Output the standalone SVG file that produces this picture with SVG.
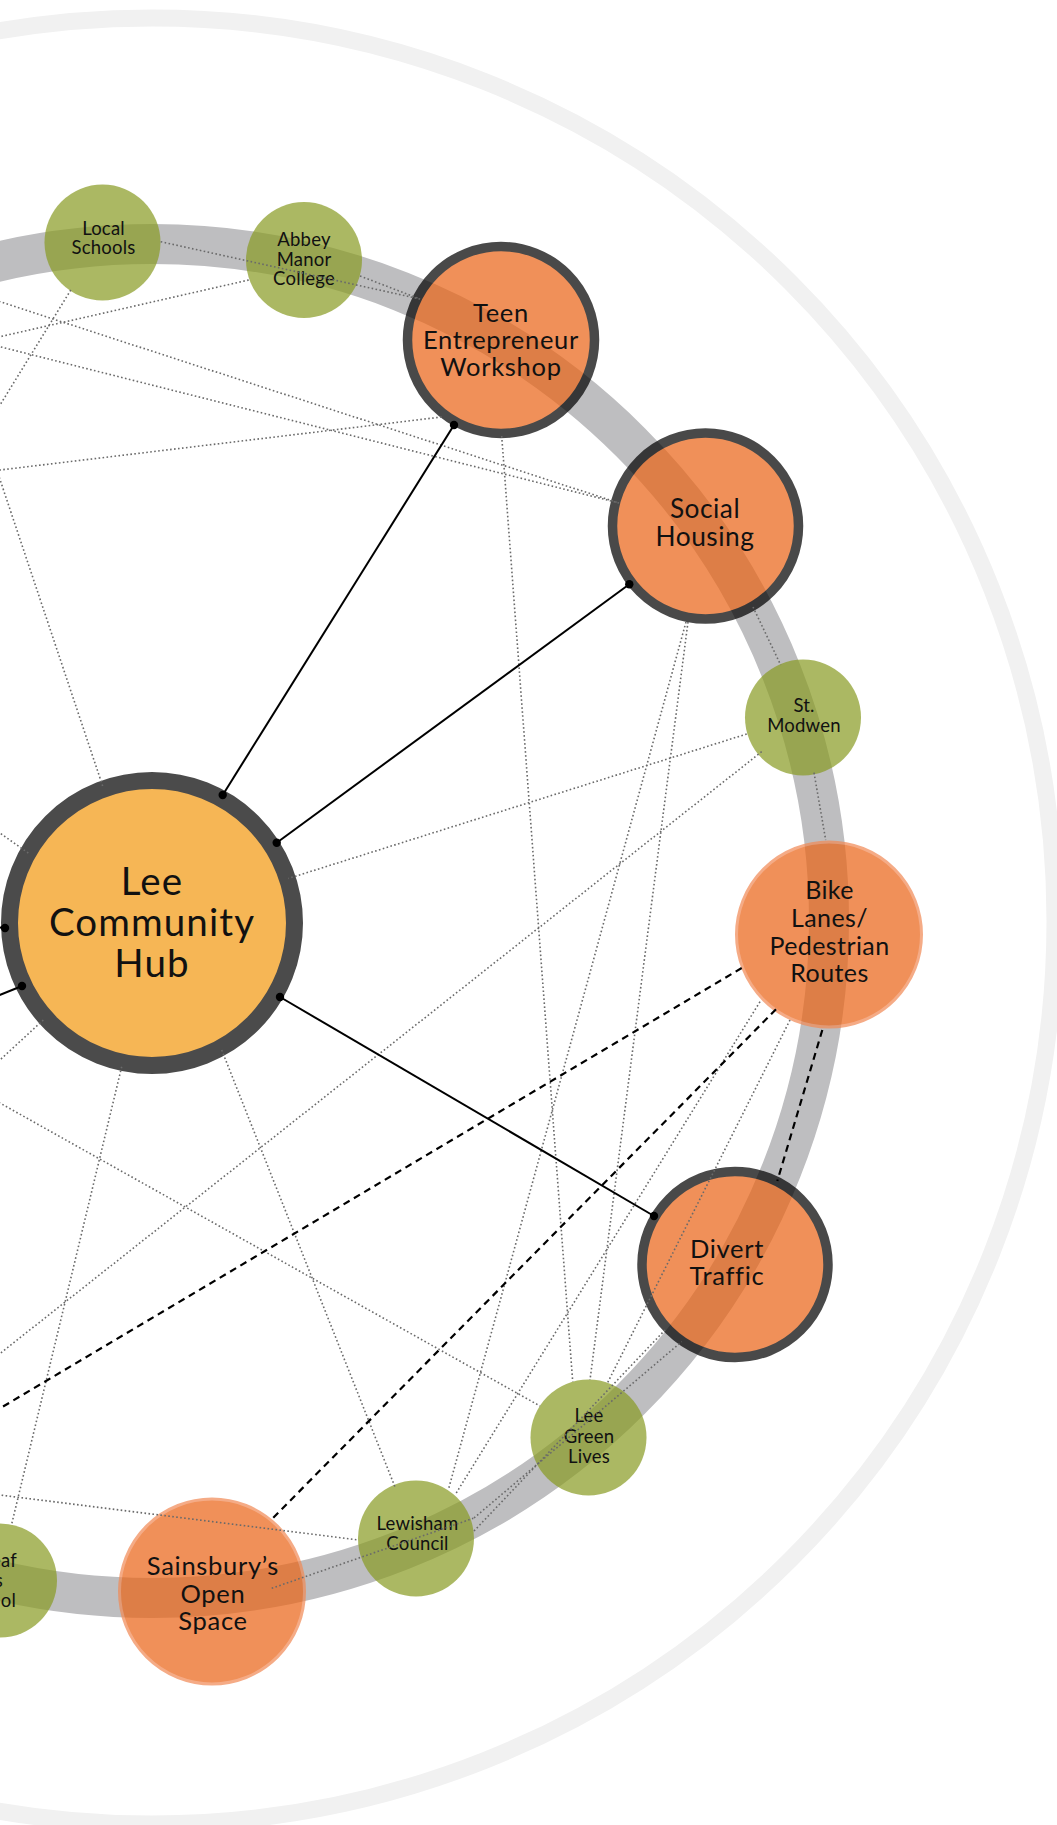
<svg xmlns="http://www.w3.org/2000/svg" width="1057" height="1825" viewBox="0 0 1057 1825">
<defs>
<style>
.outer{fill:none;stroke:#f1f1f1;stroke-width:17}
.ring{fill:none;stroke:#bebec0;stroke-width:40}
.c{opacity:.71}
.org{fill:#ea6416}
.grn{fill:#899b23}
.dk{stroke:#000;stroke-width:9.5}
.lt{stroke:#f18a56;stroke-width:3}
.hub{fill:#f6b655;stroke:#4b4b4b;stroke-width:17}
text{font-family:Lato,"Liberation Sans",sans-serif;fill:#111;text-anchor:middle}
.g{font-size:18.5px;letter-spacing:0.2px}
.o{font-size:25.5px;letter-spacing:0.7px}
.dt{fill:none;stroke:#6a6a6a;stroke-width:1.6;stroke-dasharray:1.6 2.4}
.sl{fill:none;stroke:#000;stroke-width:2}
.ds{fill:none;stroke:#000;stroke-width:2.2;stroke-dasharray:7 5}
</style>
<marker id="m" markerUnits="userSpaceOnUse" markerWidth="10" markerHeight="10" refX="5" refY="5" viewBox="0 0 10 10"><circle cx="5" cy="5" r="4.2" fill="#000"/></marker>
</defs>
<rect width="1057" height="1825" fill="#fff"/>
<g id="rings">
<circle class="outer" cx="152" cy="921" r="903"/>
<circle class="ring" cx="152" cy="921" r="677"/>
</g>
<g id="node-hub">
<circle class="hub" cx="152" cy="923" r="142.5"/>
<text style="font-size:38.5px;letter-spacing:1.1px"><tspan x="152" y="895">Lee</tspan><tspan x="152" y="936">Community</tspan><tspan x="152" y="977">Hub</tspan></text>
</g>
<g id="node-local-schools">
<circle class="c grn" cx="102.5" cy="242.5" r="58"/>
<text class="g"><tspan x="103.5" y="235">Local</tspan><tspan x="103.5" y="254">Schools</tspan></text>
</g>
<g id="node-abbey-manor">
<circle class="c grn" cx="304" cy="260" r="58"/>
<text class="g"><tspan x="304" y="246">Abbey</tspan><tspan x="304" y="265.5">Manor</tspan><tspan x="304" y="285">College</tspan></text>
</g>
<g id="node-teen">
<circle class="c org dk" cx="501" cy="340" r="93.5"/>
<text class="o"><tspan x="501" y="322">Teen</tspan><tspan x="501" y="349">Entrepreneur</tspan><tspan x="501" y="376">Workshop</tspan></text>
</g>
<g id="node-social">
<circle class="c org dk" cx="705.5" cy="526" r="93"/>
<text style="font-size:26.3px;letter-spacing:0.5px"><tspan x="705" y="518">Social</tspan><tspan x="705" y="546">Housing</tspan></text>
</g>
<g id="node-st-modwen">
<circle class="c grn" cx="803" cy="717.5" r="58"/>
<text class="g"><tspan x="804" y="711.5">St.</tspan><tspan x="804" y="731.5">Modwen</tspan></text>
</g>
<g id="node-bike">
<circle class="c org lt" cx="829" cy="934.5" r="92.5"/>
<text style="font-size:25px;letter-spacing:0.4px"><tspan x="829.5" y="899">Bike</tspan><tspan x="829.5" y="927">Lanes/</tspan><tspan x="829.5" y="955">Pedestrian</tspan><tspan x="829.5" y="982">Routes</tspan></text>
</g>
<g id="node-divert">
<circle class="c org dk" cx="735" cy="1264.5" r="93"/>
<text class="o"><tspan x="727" y="1258">Divert</tspan><tspan x="727" y="1284.5">Traffic</tspan></text>
</g>
<g id="node-lee-green">
<circle class="c grn" cx="588.5" cy="1437.5" r="58"/>
<text class="g"><tspan x="589" y="1421.5">Lee</tspan><tspan x="589" y="1442.5">Green</tspan><tspan x="589" y="1462.5">Lives</tspan></text>
</g>
<g id="node-lewisham">
<circle class="c grn" cx="416" cy="1538.5" r="58"/>
<text class="g"><tspan x="417.5" y="1530">Lewisham</tspan><tspan x="417.5" y="1550">Council</tspan></text>
</g>
<g id="node-sainsburys">
<circle class="c org lt" cx="212" cy="1591.5" r="92.5"/>
<text class="o"><tspan x="213" y="1575">Sainsbury’s</tspan><tspan x="213" y="1603">Open</tspan><tspan x="213" y="1630">Space</tspan></text>
</g>
<g id="node-left-school">
<circle class="c grn" cx="0" cy="1580.5" r="57"/>
<text class="g" style="text-anchor:end"><tspan x="17" y="1567">eaf</tspan><tspan x="3" y="1587">s</tspan><tspan x="16" y="1607">ol</tspan></text>
</g>
<g id="connectors">
<path class="dt" d="M160.7 241.7L420 299"/>
<path class="dt" d="M360 276L420 299"/>
<path class="dt" d="M248.7 280L-100 359.5"/>
<path class="dt" d="M-100 269.2L619 503"/>
<path class="dt" d="M-100 321.5L619 503"/>
<path class="dt" d="M-100 482L444 416.7"/>
<path class="dt" d="M70.8 290L-100 567.5"/>
<path class="dt" d="M-30 390L103 787"/>
<path class="dt" d="M501.7 436L572.7 1381.7"/>
<path class="dt" d="M686 622L448.3 1490"/>
<path class="dt" d="M688 622L590 1380"/>
<path class="dt" d="M753 607L780.7 665"/>
<path class="dt" d="M814 772.7L825.7 840"/>
<path class="dt" d="M746.7 734L288.3 878.5"/>
<path class="dt" d="M761.7 751.7L-50 1393"/>
<path class="dt" d="M760 1001.7L455 1495"/>
<path class="dt" d="M790 1020L607.3 1383.3"/>
<path class="dt" d="M-50 1075L540 1406"/>
<path class="dt" d="M221.7 1050L395 1487"/>
<path class="dt" d="M121.7 1066.7L11.7 1524"/>
<path class="dt" d="M-50 1488.7L358.3 1540"/>
<path class="dt" d="M271.7 1588.3L473.3 1518.3"/>
<path class="dt" d="M474 1531L665 1330"/>
<path class="dt" d="M474 1518L681.7 1341.7"/>
<path class="dt" d="M43.3 1020L-50 1106"/>
<path class="dt" d="M28.3 853L-50 798"/>
<path class="ds" d="M741.7 968L-50 1438"/>
<path class="ds" d="M776 1009.3L271.7 1519.3"/>
<path class="ds" d="M822.3 1030L777.3 1181"/>
<path class="sl" d="M222.7 795L454 425" marker-start="url(#m)" marker-end="url(#m)"/>
<path class="sl" d="M276.7 842.7L629.3 584.3" marker-start="url(#m)" marker-end="url(#m)"/>
<path class="sl" d="M280 997L654 1216" marker-start="url(#m)" marker-end="url(#m)"/>
<path class="sl" d="M5 928L-20 926" marker-start="url(#m)"/>
<path class="sl" d="M22 986L-30 1007" marker-start="url(#m)"/>
</g>
</svg>
